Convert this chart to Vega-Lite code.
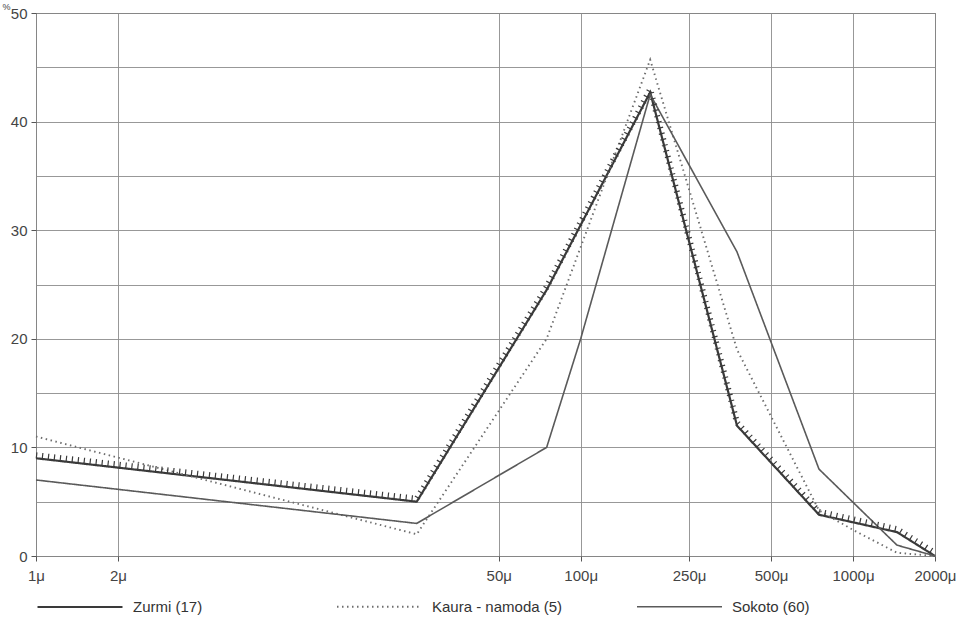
{
  "$schema": "https://vega.github.io/schema/vega-lite/v6.json",
  "autosize": "none",
  "width": 899,
  "height": 543,
  "padding": {"left": 36, "top": 13, "right": 38, "bottom": 67},
  "background": "white",
  "data": {
    "values": [
      {"series": "Zurmi (17)", "size": 1, "pct": 9},
      {"series": "Zurmi (17)", "size": 25, "pct": 5},
      {"series": "Zurmi (17)", "size": 75, "pct": 24.5},
      {"series": "Zurmi (17)", "size": 180, "pct": 42.7},
      {"series": "Zurmi (17)", "size": 375, "pct": 12},
      {"series": "Zurmi (17)", "size": 750, "pct": 3.8},
      {"series": "Zurmi (17)", "size": 1450, "pct": 2.2},
      {"series": "Zurmi (17)", "size": 2000, "pct": 0},
      {"series": "Kaura - namoda (5)", "size": 1, "pct": 11},
      {"series": "Kaura - namoda (5)", "size": 25, "pct": 2},
      {"series": "Kaura - namoda (5)", "size": 75, "pct": 20},
      {"series": "Kaura - namoda (5)", "size": 180, "pct": 45.7},
      {"series": "Kaura - namoda (5)", "size": 375, "pct": 19},
      {"series": "Kaura - namoda (5)", "size": 750, "pct": 4.2},
      {"series": "Kaura - namoda (5)", "size": 1000, "pct": 2.4},
      {"series": "Kaura - namoda (5)", "size": 1450, "pct": 0.3},
      {"series": "Kaura - namoda (5)", "size": 2000, "pct": 0},
      {"series": "Sokoto (60)", "size": 1, "pct": 7},
      {"series": "Sokoto (60)", "size": 25, "pct": 3},
      {"series": "Sokoto (60)", "size": 75, "pct": 10},
      {"series": "Sokoto (60)", "size": 100, "pct": 20},
      {"series": "Sokoto (60)", "size": 180, "pct": 42.5},
      {"series": "Sokoto (60)", "size": 375, "pct": 28},
      {"series": "Sokoto (60)", "size": 750, "pct": 8},
      {"series": "Sokoto (60)", "size": 1450, "pct": 1},
      {"series": "Sokoto (60)", "size": 2000, "pct": 0}
    ]
  },
  "encoding": {
    "x": {
      "field": "size",
      "type": "quantitative",
      "scale": {"type": "log", "domain": [1, 2000], "nice": false},
      "axis": {
        "values": [1, 2, 50, 100, 250, 500, 1000, 2000],
        "labelExpr": "datum.value + 'μ'",
        "title": null,
        "labelFlush": false,
        "grid": true,
        "tickSize": 5,
        "labelPadding": 7
      }
    },
    "y": {
      "field": "pct",
      "type": "quantitative",
      "scale": {"domain": [0, 50], "nice": false},
      "axis": {
        "values": [0, 5, 10, 15, 20, 25, 30, 35, 40, 45, 50],
        "labelExpr": "datum.value % 10 === 0 ? datum.label : ''",
        "tickOpacity": {"expr": "datum.value % 10 === 0 ? 1 : 0"},
        "title": "%",
        "titleAngle": 0,
        "titleX": -30,
        "titleY": -2,
        "titleAlign": "center",
        "titleBaseline": "bottom",
        "titleFontSize": 9,
        "titleFontWeight": "normal",
        "titleColor": "#444",
        "grid": true,
        "tickSize": 5,
        "labelPadding": 4
      }
    }
  },
  "layer": [
    {
      "mark": {"type": "line", "strokeCap": "butt"},
      "encoding": {
        "detail": {"field": "series"},
        "color": {
          "field": "series",
          "type": "nominal",
          "scale": {"domain": ["Zurmi (17)", "Kaura - namoda (5)", "Sokoto (60)"], "range": ["#3a3a3a", "#6e6e6e", "#5a5a5a"]},
          "legend": {"title": null}
        },
        "strokeDash": {
          "field": "series",
          "type": "nominal",
          "scale": {"domain": ["Zurmi (17)", "Kaura - namoda (5)", "Sokoto (60)"], "range": [[1, 0], [1.5, 3.5], [1, 0]]},
          "legend": {"title": null}
        },
        "strokeWidth": {
          "field": "series",
          "type": "nominal",
          "scale": {"domain": ["Zurmi (17)", "Kaura - namoda (5)", "Sokoto (60)"], "range": [2.2, 1.6, 1.1]},
          "legend": {"title": null}
        }
      }
    },
    {
      "transform": [{"filter": "datum.series === 'Zurmi (17)'"}],
      "mark": {"type": "line", "color": "#3a3a3a", "strokeWidth": 6, "strokeDash": [1.2, 4.8], "strokeCap": "butt", "yOffset": -3},
      "encoding": {}
    }
  ],
  "config": {
    "font": "Liberation Sans Narrow, Liberation Sans, sans-serif",
    "view": {"stroke": "#555", "strokeWidth": 1},
    "axis": {
      "domain": false,
      "gridColor": "#8c8c8c",
      "gridWidth": 0.9,
      "gridOpacity": 1,
      "tickColor": "#555",
      "labelColor": "#444",
      "labelFont": "Liberation Sans Narrow, Liberation Sans, sans-serif",
      "labelFontSize": 15
    },
    "legend": {
      "orient": "none",
      "legendX": 0,
      "legendY": 550,
      "direction": "horizontal",
      "symbolType": "stroke",
      "symbolSize": 7225,
      "gridAlign": "all",
      "columnPadding": 70,
      "labelOffset": 9,
      "labelFontSize": 15,
      "labelColor": "#333",
      "labelFont": "Liberation Sans Narrow, Liberation Sans, sans-serif",
      "padding": 0,
      "labelLimit": 300
    }
  }
}
